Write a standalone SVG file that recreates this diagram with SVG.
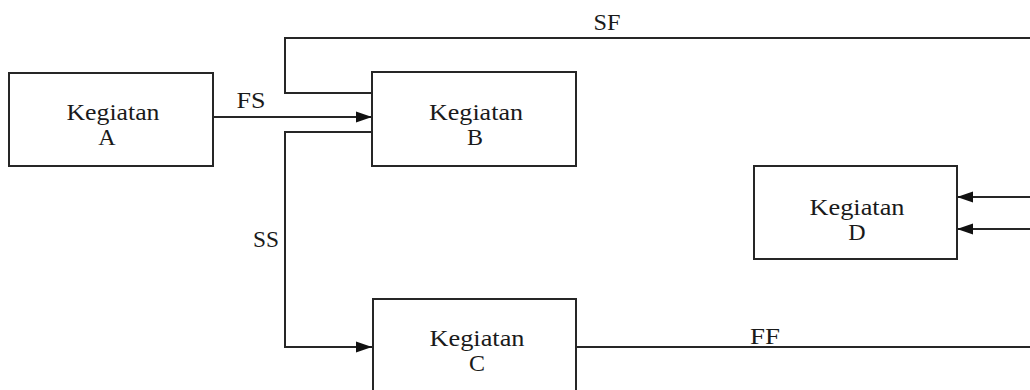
<svg xmlns="http://www.w3.org/2000/svg" width="1030" height="390" viewBox="0 0 1030 390">
  <style>
    .box { fill: #ffffff; stroke: #262626; stroke-width: 2; }
    .link { fill: none; stroke: #262626; stroke-width: 2; }
    .txt { font-family: 'Liberation Serif', serif; font-size: 24px; fill: #1a1a1a; text-anchor: middle; }
    .lbl { font-family: 'Liberation Serif', serif; font-size: 23px; fill: #1a1a1a; text-anchor: middle; }
  </style>
  <defs>
    <marker id="arrow" markerUnits="userSpaceOnUse" markerWidth="16" markerHeight="12" refX="16" refY="6" orient="auto">
      <path d="M0,0.5 L16,6 L0,11.5 z" fill="#111111"/>
    </marker>
  </defs>
  <rect width="1030" height="390" fill="#ffffff"/>

  <!-- dependency connectors -->
  <g id="connectors">
    <!-- finish-to-start A -> B -->
    <path class="link" d="M213,117 H372" marker-end="url(#arrow)"/>
    <text class="lbl" x="251" y="108" textLength="29" lengthAdjust="spacingAndGlyphs">FS</text>
    <!-- start-to-finish from B, running off to the right -->
    <path class="link" d="M372,93 H285 V38 H1030"/>
    <text class="lbl" x="607" y="30" textLength="27" lengthAdjust="spacingAndGlyphs">SF</text>
    <!-- start-to-start B -> C -->
    <path class="link" d="M372,132 H285 V347 H372" marker-end="url(#arrow)"/>
    <text class="lbl" x="266" y="247" textLength="26" lengthAdjust="spacingAndGlyphs">SS</text>
    <!-- finish-to-finish from C, running off to the right -->
    <path class="link" d="M576,347 H1030"/>
    <text class="lbl" x="765" y="344" textLength="30" lengthAdjust="spacingAndGlyphs">FF</text>
    <!-- incoming links to D -->
    <path class="link" d="M1030,197 H957" marker-end="url(#arrow)"/>
    <path class="link" d="M1030,229 H957" marker-end="url(#arrow)"/>
  </g>

  <g id="node-a">
    <rect class="box" x="9" y="73" width="204" height="93"/>
    <text class="txt" x="113" y="120" textLength="93" lengthAdjust="spacingAndGlyphs">Kegiatan</text>
    <text class="txt" x="107" y="145">A</text>
  </g>

  <g id="node-b">
    <rect class="box" x="372" y="72" width="204" height="94"/>
    <text class="txt" x="476" y="120" textLength="94" lengthAdjust="spacingAndGlyphs">Kegiatan</text>
    <text class="txt" x="475" y="145">B</text>
  </g>

  <g id="node-c">
    <rect class="box" x="373" y="299" width="203" height="100"/>
    <text class="txt" x="477" y="346" textLength="95" lengthAdjust="spacingAndGlyphs">Kegiatan</text>
    <text class="txt" x="477" y="371">C</text>
  </g>

  <g id="node-d">
    <rect class="box" x="754" y="166" width="203" height="93"/>
    <text class="txt" x="857" y="215" textLength="95" lengthAdjust="spacingAndGlyphs">Kegiatan</text>
    <text class="txt" x="857" y="240">D</text>
  </g>
</svg>
